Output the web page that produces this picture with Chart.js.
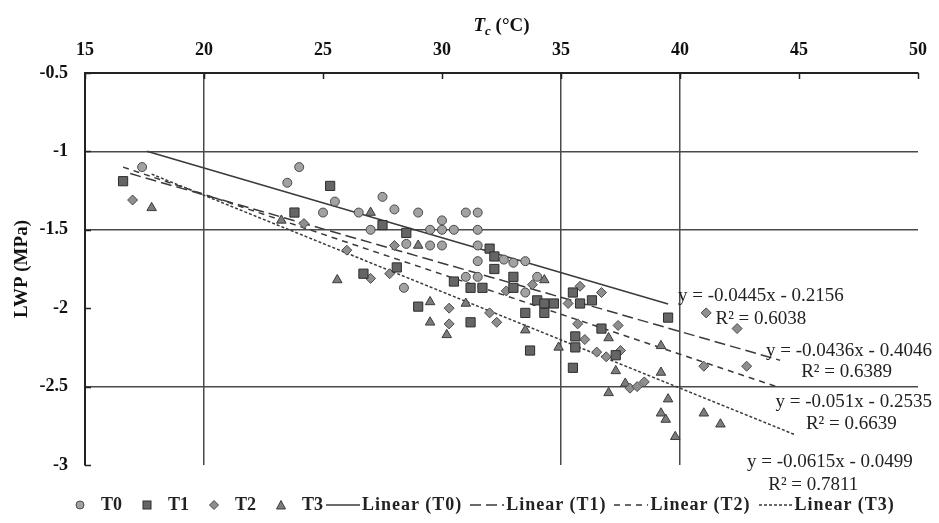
<!DOCTYPE html>
<html>
<head>
<meta charset="utf-8">
<title>LWP - Tc</title>
<script src="https://cdn.jsdelivr.net/npm/chart.js@4.4.1/dist/chart.umd.min.js"></script>
<style>
  body { margin: 0; background: #fff; }
  #wrap { position: relative; width: 939px; height: 523px; }
  #legend {
    position: absolute; left: 74px; top: 494px;
    display: flex; align-items: center; white-space: nowrap;
    font: bold 18px 'Liberation Serif', 'Times New Roman', serif; color: #222;
  }
  #legend .item { display: flex; align-items: center; }
  #legend .pt svg { margin-right: 15px; }
  #legend .pt + .pt { margin-left: 19px; }
  #legend .pt + .ln { margin-left: 3px; }
  #legend .ln + .ln { margin-left: 8px; }
  #legend .ln { letter-spacing: 1px; }
  #legend .ln svg { margin-right: 2px; }
  #legend svg { display: block; }
</style>
</head>
<body>
<div id="wrap">
  <canvas id="myChart" width="939" height="523"></canvas>
  <div id="legend"></div>
</div>
<script>
const seriesNames = ["T0", "T1", "T2", "T3"];

// Tc (°C) and LWP (MPa) per treatment
const t0X = [17.4, 23.5, 24.0, 25.5, 25.0, 26.5, 27.5, 28.0, 27.0, 29.0, 28.5, 29.5, 30.0, 30.0, 30.5,
             31.0, 31.5, 31.5, 29.5, 30.0, 31.5, 31.5, 32.6, 33.0, 33.5, 28.4, 31.0, 31.5, 33.5, 34.0];
const t0Y = [-1.10, -1.20, -1.10, -1.32, -1.39, -1.39, -1.29, -1.37, -1.50, -1.39, -1.59, -1.50, -1.44, -1.50, -1.50,
             -1.39, -1.39, -1.50, -1.60, -1.60, -1.60, -1.70, -1.69, -1.71, -1.70, -1.87, -1.80, -1.80, -1.90, -1.80];

const t1X = [16.6, 25.3, 23.8, 27.5, 28.5, 32.0, 32.2, 32.2, 26.7, 28.1, 29.0, 31.2, 30.5, 31.2, 31.7, 33.0,
             33.0, 33.5, 34.0, 34.3, 34.7, 34.3, 33.7, 35.5, 35.8, 36.3, 39.5, 36.7, 35.6, 35.6, 37.3, 35.5];
const t1Y = [-1.19, -1.22, -1.39, -1.47, -1.52, -1.62, -1.67, -1.75, -1.78, -1.74, -1.99, -2.09, -1.83, -1.87, -1.87, -1.80,
             -1.87, -2.03, -1.95, -1.97, -1.97, -2.03, -2.27, -1.90, -1.97, -1.95, -2.06, -2.13, -2.18, -2.25, -2.30, -2.38];

const t2X = [17.0, 24.2, 28.0, 26.0, 27.0, 27.8, 30.3, 30.3, 32.0, 32.3, 32.7, 33.8, 35.8, 35.3, 36.7,
             41.1, 37.4, 35.7, 36.0, 36.5, 36.9, 37.5, 37.9, 38.5, 42.4, 42.8, 41.0, 38.2];
const t2Y = [-1.31, -1.46, -1.60, -1.63, -1.81, -1.78, -2.00, -2.10, -2.03, -2.09, -1.89, -1.85, -1.86, -1.97, -1.90,
             -2.03, -2.11, -2.10, -2.20, -2.28, -2.31, -2.27, -2.51, -2.47, -2.13, -2.37, -2.37, -2.50];

const t3X = [17.8, 23.25, 27.0, 25.6, 29.0, 29.5, 29.5, 30.2, 31.0, 33.5, 34.3, 37.0, 34.9, 37.3, 39.2,
             39.2, 37.7, 37.0, 39.5, 39.2, 39.4, 39.8, 41.0, 41.7];
const t3Y = [-1.36, -1.44, -1.39, -1.82, -1.60, -1.96, -2.09, -2.17, -1.97, -2.14, -1.82, -2.19, -2.25, -2.40, -2.24,
             -2.41, -2.48, -2.54, -2.58, -2.67, -2.71, -2.82, -2.67, -2.74];

// linear trendlines: y = slope * x + intercept
const slopes = [-0.0445, -0.0436, -0.051, -0.0615];
const intercepts = [-0.2156, -0.4046, -0.2535, -0.0499];
const rSquared = ["0.6038", "0.6389", "0.6639", "0.7811"];
const trendFrom = [17.6, 16.9, 16.6, 17.8];
const trendTo = [39.5, 44.2, 44.2, 44.8];

// where each equation / R² pair sits (data units, centre of the text)
const eqAtX = [43.4, 47.1, 47.3, 46.3];
const eqAtY = [-1.92, -2.27, -2.60, -2.98];
const r2AtX = [43.4, 47.0, 47.2, 45.6];
const r2AtY = [-2.07, -2.41, -2.74, -3.13];

const xGridAt = [20, 35, 40];
const yGridAt = [-1, -1.5, -2.5];

const xs = [t0X, t1X, t2X, t3X];
const ys = [t0Y, t1Y, t2Y, t3Y];
const markers = ["circle", "rect", "rectRot", "triangle"];
const markerSize = [4.5, 6.5, 5, 5.5];
const fills = ["#a2a2a2", "#656565", "#8e8e8e", "#7c7c7c"];
const edges = ["#4a4a4a", "#2e2e2e", "#4a4a4a", "#3c3c3c"];
const dashes = [[], [11, 5], [6, 5], [3, 2]];

const SERIF = "'Liberation Serif', 'Times New Roman', serif";

const datasets = [];
seriesNames.forEach((name, s) => {
  datasets.push({
    label: name,
    data: xs[s].map((x, i) => ({ x: x, y: ys[s][i] })),
    pointStyle: markers[s],
    pointRadius: markerSize[s],
    pointBackgroundColor: fills[s],
    pointBorderColor: edges[s],
    pointBorderWidth: 1,
    showLine: false
  });
});
seriesNames.forEach((name, s) => {
  datasets.push({
    type: "line",
    label: "Linear (" + name + ")",
    data: [trendFrom[s], trendTo[s]].map(x => ({ x: x, y: slopes[s] * x + intercepts[s] })),
    borderColor: "#3a3a3a",
    borderWidth: 1.5,
    borderDash: dashes[s],
    pointRadius: 0,
    fill: false
  });
});

function fmtEq(s) {
  const b = intercepts[s];
  return "y = " + slopes[s] + "x " + (b < 0 ? "- " : "+ ") + Math.abs(b);
}

// inside tick marks, axis titles and trendline equations
const decor = {
  id: "decor",
  afterDraw(chart) {
    const ctx = chart.ctx, sx = chart.scales.x, sy = chart.scales.y, area = chart.chartArea;
    ctx.save();
    ctx.strokeStyle = "#222";
    ctx.lineWidth = 1.5;
    ctx.beginPath();
    sx.ticks.forEach(t => {
      const px = Math.round(sx.getPixelForValue(t.value)) + 0.5;
      ctx.moveTo(px, area.top);
      ctx.lineTo(px, area.top + 6);
    });
    sy.ticks.forEach(t => {
      const py = Math.round(sy.getPixelForValue(t.value)) + 0.5;
      ctx.moveTo(area.left, py);
      ctx.lineTo(area.left + 6, py);
    });
    ctx.stroke();

    ctx.fillStyle = "#111";
    ctx.textBaseline = "alphabetic";

    // Tc (°C)
    const fT = "bold italic 19px " + SERIF, fSub = "bold italic 13px " + SERIF, fRest = "bold 19px " + SERIF;
    ctx.font = fT; const wT = ctx.measureText("T").width;
    ctx.font = fSub; const wS = ctx.measureText("c").width;
    ctx.font = fRest; const wR = ctx.measureText(" (°C)").width;
    let x0 = (area.left + area.right) / 2 - (wT + wS + wR) / 2;
    const base = 31;
    ctx.textAlign = "left";
    ctx.font = fT; ctx.fillText("T", x0, base); x0 += wT;
    ctx.font = fSub; ctx.fillText("c", x0, base + 4); x0 += wS;
    ctx.font = fRest; ctx.fillText(" (°C)", x0, base);

    // LWP (MPa)
    ctx.save();
    ctx.translate(22, (area.top + area.bottom) / 2);
    ctx.rotate(-Math.PI / 2);
    ctx.textAlign = "center";
    ctx.textBaseline = "middle";
    ctx.font = "bold 19px " + SERIF;
    ctx.fillText("LWP (MPa)", 0, 0);
    ctx.restore();

    ctx.textAlign = "center";
    ctx.textBaseline = "middle";
    ctx.font = "19px " + SERIF;
    ctx.fillStyle = "#222";
    seriesNames.forEach((name, s) => {
      ctx.fillText(fmtEq(s), sx.getPixelForValue(eqAtX[s]), sy.getPixelForValue(eqAtY[s]));
      ctx.fillText("R² = " + rSquared[s], sx.getPixelForValue(r2AtX[s]), sy.getPixelForValue(r2AtY[s]));
    });
    ctx.restore();
  }
};

const chart = new Chart("myChart", {
  type: "scatter",
  data: { datasets: datasets },
  options: {
    responsive: false,
    animation: false,
    devicePixelRatio: 1,
    layout: { padding: { top: 0, left: 0, right: 14, bottom: 58 } },
    plugins: { legend: { display: false }, tooltip: { enabled: false } },
    scales: {
      x: {
        type: "linear",
        position: "top",
        min: 15, max: 50,
        ticks: { stepSize: 5, padding: 12, color: "#111", font: { family: SERIF, size: 18, weight: "bold" } },
        grid: {
          drawTicks: false,
          lineWidth: 1.5,
          color: c => xGridAt.includes(c.tick.value) ? "#4a4a4a" : "rgba(0,0,0,0)"
        },
        border: { display: true, color: "#222", width: 2 },
        afterFit: scale => { scale.height = 73; }
      },
      y: {
        type: "linear",
        min: -3, max: -0.5,
        ticks: {
          stepSize: 0.5, padding: 17, color: "#111",
          font: { family: SERIF, size: 18, weight: "bold" },
          callback: v => String(v)
        },
        grid: {
          drawTicks: false,
          lineWidth: 1.5,
          color: c => yGridAt.includes(c.tick.value) ? "#4a4a4a" : "rgba(0,0,0,0)"
        },
        border: { display: true, color: "#222", width: 2 },
        afterFit: scale => { scale.width = 85; }
      }
    }
  },
  plugins: [decor]
});

// legend under the plot
function legendIcon(ds) {
  if (ds.type === "line") {
    const d = (ds.borderDash || []).join(",");
    return '<svg width="34" height="10"><line x1="0" y1="5" x2="34" y2="5" stroke="' + ds.borderColor +
      '" stroke-width="1.5"' + (d ? ' stroke-dasharray="' + d + '"' : '') + '/></svg>';
  }
  const a = 'fill="' + ds.pointBackgroundColor + '" stroke="' + ds.pointBorderColor + '" stroke-width="1"';
  let shape;
  if (ds.pointStyle === "circle") shape = '<circle cx="6" cy="6" r="4" ' + a + '/>';
  else if (ds.pointStyle === "rect") shape = '<rect x="2" y="2" width="8" height="8" ' + a + '/>';
  else if (ds.pointStyle === "rectRot") shape = '<polygon points="6,1.5 10.5,6 6,10.5 1.5,6" ' + a + '/>';
  else shape = '<polygon points="6,1.5 10.5,10 1.5,10" ' + a + '/>';
  return '<svg width="12" height="12">' + shape + '</svg>';
}

document.getElementById("legend").innerHTML = chart.data.datasets.map(ds =>
  '<span class="item ' + (ds.type === "line" ? "ln" : "pt") + '">' + legendIcon(ds) +
  '<span>' + ds.label + '</span></span>'
).join("");
</script>
</body>
</html>
